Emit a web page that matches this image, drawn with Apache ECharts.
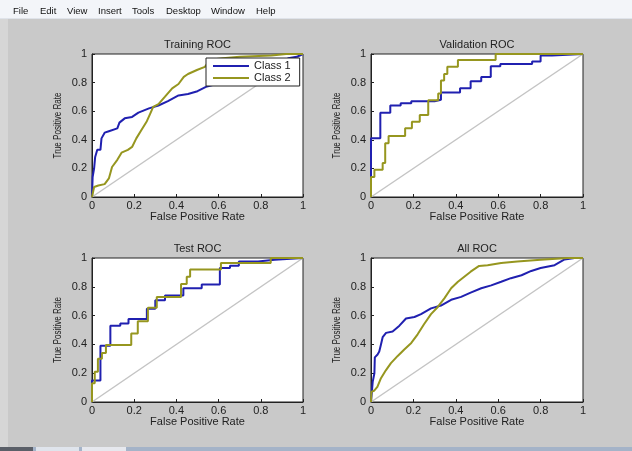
<!DOCTYPE html>
<html>
<head>
<meta charset="utf-8">
<script src="https://cdn.jsdelivr.net/npm/echarts@6.0.0/dist/echarts.min.js"></script>
<style>
  html, body { margin: 0; padding: 0; background: #c9c9c9; }
  #main { width: 632px; height: 451px; }
</style>
</head>
<body>
<div id="main"></div>
<script>
// ROC curves, [false positive rate, true positive rate]
var trainClass1 = [[0,0],[0.003,0.14],[0.01,0.2],[0.015,0.28],[0.025,0.33],[0.04,0.33],[0.045,0.41],[0.06,0.45],[0.08,0.46],[0.12,0.48],[0.13,0.52],[0.155,0.55],[0.19,0.56],[0.22,0.59],[0.27,0.62],[0.315,0.64],[0.36,0.67],[0.41,0.71],[0.455,0.72],[0.5,0.74],[0.54,0.77],[0.59,0.79],[0.7,0.83],[0.8,0.88],[0.88,0.93],[0.93,0.97],[0.97,0.98],[1,1]]
var trainClass2 = [[0,0],[0.01,0.07],[0.03,0.08],[0.06,0.09],[0.08,0.13],[0.095,0.21],[0.12,0.26],[0.14,0.31],[0.17,0.33],[0.19,0.35],[0.21,0.41],[0.235,0.47],[0.26,0.53],[0.275,0.58],[0.29,0.63],[0.315,0.65],[0.345,0.7],[0.38,0.76],[0.41,0.79],[0.435,0.84],[0.455,0.86],[0.5,0.89],[0.535,0.91],[0.56,0.96],[0.62,0.97],[0.7,0.98],[0.85,0.99],[0.92,1],[1,1]]

var valClass1 = [[0,0],[0,0.41],[0.044,0.59],[0.091,0.64],[0.14,0.655],[0.19,0.67],[0.3,0.68],[0.33,0.73],[0.42,0.76],[0.47,0.81],[0.52,0.84],[0.565,0.915],[0.61,0.93],[0.76,0.947],[0.8,0.99],[0.854,1],[1,1]]
var valClass2 = [[0,0],[0,0.14],[0.016,0.19],[0.055,0.238],[0.067,0.376],[0.083,0.427],[0.161,0.48],[0.193,0.527],[0.23,0.573],[0.27,0.677],[0.317,0.723],[0.33,0.815],[0.345,0.86],[0.36,0.91],[0.41,0.958],[0.588,1],[1,1]]

var testClass1 = [[0,0],[0,0.15],[0.04,0.39],[0.087,0.53],[0.134,0.545],[0.173,0.576],[0.26,0.647],[0.3,0.706],[0.346,0.74],[0.433,0.79],[0.52,0.816],[0.606,0.93],[0.654,0.946],[0.696,0.976],[0.787,0.988],[0.866,1],[1,1]]
var testClass2 = [[0,0],[0,0.13],[0.013,0.21],[0.028,0.3],[0.047,0.34],[0.066,0.395],[0.186,0.475],[0.217,0.56],[0.265,0.654],[0.307,0.73],[0.422,0.82],[0.449,0.87],[0.465,0.92],[0.611,0.965],[0.847,1],[1,1]]

var allClass1 = [[0,0],[0.008,0.14],[0.016,0.2],[0.018,0.31],[0.031,0.33],[0.039,0.35],[0.047,0.4],[0.055,0.45],[0.071,0.48],[0.102,0.49],[0.134,0.53],[0.165,0.58],[0.205,0.59],[0.236,0.61],[0.283,0.65],[0.33,0.67],[0.378,0.71],[0.425,0.73],[0.47,0.76],[0.52,0.79],[0.567,0.81],[0.614,0.835],[0.66,0.86],[0.71,0.88],[0.756,0.91],[0.8,0.93],[0.866,0.95],[0.913,0.99],[0.96,1],[1,1]]
var allClass2 = [[0,0],[0.002,0.07],[0.016,0.08],[0.03,0.105],[0.047,0.165],[0.07,0.22],[0.094,0.27],[0.126,0.32],[0.157,0.365],[0.19,0.41],[0.22,0.47],[0.25,0.54],[0.283,0.61],[0.315,0.66],[0.346,0.72],[0.378,0.79],[0.41,0.835],[0.44,0.87],[0.47,0.905],[0.51,0.945],[0.55,0.95],[0.614,0.965],[0.69,0.976],[0.8,0.988],[0.93,1],[1,1]]

var chanceLine = [[0,0],[1,1]]
var panelTitles = ['Training ROC', 'Validation ROC', 'Test ROC', 'All ROC']
var menuItems = ['File', 'Edit', 'View', 'Insert', 'Tools', 'Desktop', 'Window', 'Help']

var blue = '#2020b0'
var olive = '#96961f'
var txt = '#222'
var font = "'Liberation Sans', Arial, sans-serif"

// panel boxes in pixels
var boxes = [
  { left: 92, top: 54, width: 211, height: 143 },
  { left: 371, top: 54, width: 212, height: 143 },
  { left: 92, top: 258, width: 211, height: 144 },
  { left: 371, top: 258, width: 212, height: 144 }
]
var curves = [
  [trainClass1, trainClass2, false],
  [valClass1, valClass2, true],
  [testClass1, testClass2, true],
  [allClass1, allClass2, false]
]

var grids = [], xAxes = [], yAxes = [], series = [], graphics = []

boxes.forEach(function (b, i) {
  grids.push({
    left: b.left, top: b.top, width: b.width, height: b.height,
    show: true, backgroundColor: '#fff', borderColor: '#222', borderWidth: 1
  })
  xAxes.push({
    type: 'value', gridIndex: i, min: 0, max: 1, interval: 0.2,
    name: 'False Positive Rate', nameLocation: 'middle', nameGap: 12,
    nameTextStyle: { color: txt, fontSize: 11, fontFamily: font },
    axisLine: { show: true, onZero: false, lineStyle: { color: txt } },
    axisTick: { inside: true, length: 3, lineStyle: { color: txt } },
    axisLabel: { margin: 3, color: txt, fontSize: 11, fontFamily: font },
    splitLine: { show: false }
  })
  yAxes.push({
    type: 'value', gridIndex: i, min: 0, max: 1, interval: 0.2,
    axisLine: { show: true, onZero: false, lineStyle: { color: txt } },
    axisTick: { inside: true, length: 3, lineStyle: { color: txt } },
    axisLabel: { margin: 5, color: txt, fontSize: 11, fontFamily: font },
    splitLine: { show: false }
  })
  series.push({
    name: 'chance', type: 'line', xAxisIndex: i, yAxisIndex: i, data: chanceLine,
    showSymbol: false, silent: true, lineStyle: { color: '#c4c4c4', width: 1.5 }, z: 1
  })
  series.push({
    name: 'Class 1', type: 'line', xAxisIndex: i, yAxisIndex: i, data: curves[i][0],
    step: curves[i][2] ? 'end' : false, showSymbol: false, color: blue,
    lineStyle: { color: blue, width: 2 }
  })
  series.push({
    name: 'Class 2', type: 'line', xAxisIndex: i, yAxisIndex: i, data: curves[i][1],
    step: curves[i][2] ? 'end' : false, showSymbol: false, color: olive,
    lineStyle: { color: olive, width: 2 }
  })
  graphics.push({
    type: 'text', x: b.left + b.width / 2, y: b.top - 9,
    style: { text: panelTitles[i], fill: txt, font: '11px ' + font, textAlign: 'center', textVerticalAlign: 'middle' }
  })
  // y axis title, condensed like the screenshot
  graphics.push({
    type: 'text', x: b.left - 34, y: b.top + b.height / 2,
    rotation: Math.PI / 2, scaleX: 0.73,
    style: { text: 'True Positive Rate', fill: txt, font: '11px ' + font, textAlign: 'center', textVerticalAlign: 'middle' }
  })
})

// window chrome: menu bar, left strip, task bar
graphics.push({ type: 'rect', shape: { x: 0, y: 0, width: 632, height: 18 }, style: { fill: '#f3f5f9' }, z: -1 })
graphics.push({ type: 'rect', shape: { x: 0, y: 18, width: 632, height: 1 }, style: { fill: '#dfe3ea' }, z: -1 })
graphics.push({ type: 'rect', shape: { x: 0, y: 19, width: 8, height: 428 }, style: { fill: '#d6d6d6' }, z: -1 })
graphics.push({ type: 'rect', shape: { x: 0, y: 447, width: 632, height: 4 }, style: { fill: '#a4b3c8' }, z: -1 })
graphics.push({ type: 'rect', shape: { x: 0, y: 447, width: 33, height: 4 }, style: { fill: '#5a5f68' }, z: -1 })
graphics.push({ type: 'rect', shape: { x: 36, y: 447, width: 43, height: 4 }, style: { fill: '#dfe4ec' }, z: -1 })
graphics.push({ type: 'rect', shape: { x: 82, y: 447, width: 44, height: 4 }, style: { fill: '#e6e8ee' }, z: -1 })
var menuX = [13, 40, 67, 98, 132, 166, 211, 256]
menuItems.forEach(function (m, k) {
  graphics.push({
    type: 'text', x: menuX[k], y: 11,
    style: { text: m, fill: '#111', font: '9.5px ' + font, textVerticalAlign: 'middle' }
  })
})

var chart = echarts.init(document.getElementById('main'))
chart.setOption({
  backgroundColor: '#c9c9c9',
  animation: false,
  grid: grids,
  xAxis: xAxes,
  yAxis: yAxes,
  legend: {
    data: ['Class 1', 'Class 2'],
    orient: 'vertical', left: 206, top: 58,
    icon: 'rect', itemWidth: 36, itemHeight: 2, itemGap: 0,
    padding: [2, 9, 2, 7],
    backgroundColor: '#fff', borderColor: '#222', borderWidth: 1,
    selectedMode: false,
    textStyle: { color: txt, fontSize: 11, lineHeight: 12, fontFamily: font }
  },
  graphic: graphics,
  series: series
})
</script>
</body>
</html>
